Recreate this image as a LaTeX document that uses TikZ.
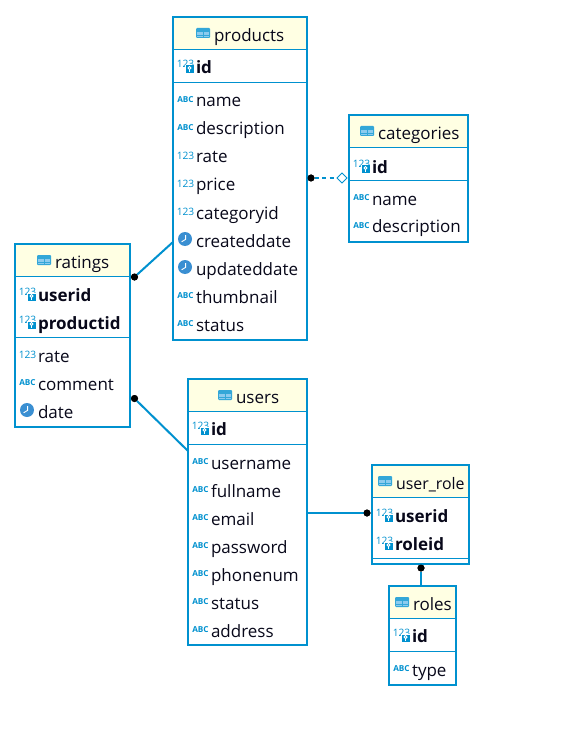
\documentclass[tikz,border=0pt]{standalone}
\usepackage{fontspec}
\setmainfont{Open Sans}
\usetikzlibrary{shapes.geometric}
\definecolor{erblue}{HTML}{0091CF}
\definecolor{erlight}{HTML}{8CCBEE}
\definecolor{erhead}{HTML}{FFFFE3}
\definecolor{clockblue}{HTML}{3A8FD2}
\definecolor{ink}{HTML}{08081A}
\tikzset{
  entbox/.style={draw=erblue,line width=2pt,fill=white,inner sep=0,outer sep=0,anchor=north west},
  sepline/.style={draw=erblue,line width=1pt},
  conn/.style={draw=erblue,line width=2pt},
  dotend/.style={circle,fill=black,inner sep=0,minimum size=7pt,outer sep=0},
  diamondend/.style={diamond,draw=erblue,fill=white,line width=.8pt,inner sep=0,minimum width=10pt,minimum height=10pt,outer sep=0},
  fldtext/.style={inner sep=0,outer sep=0,anchor=base west,text=ink,font=\fontsize{17}{20}\selectfont},
  titletext/.style={inner sep=0,outer sep=0,anchor=base west,text=ink,font=\fontsize{17}{20}\selectfont},
  icontext/.style={inner sep=0,outer sep=0,text=erblue},
  pics/icn/.style={code={\node[icontext,font=\fontsize{10.2}{12}\selectfont,anchor=center] (n123) at (8.5,-1.5) {123};}},
  pics/ica/.style={code={\node[icontext,font=\fontsize{8.2}{9}\selectfont\bfseries,anchor=center] (nabc) at (8.5,-1.5) {ABC};}},
  pics/icc/.style={code={
    \fill[clockblue] (8,-2) circle (7);
    \draw[white,line width=.9pt] (8.6,-6) -- (8.6,-1.6) -- (4.6,0.8);}},
  pics/ick/.style={code={
    \node[icontext,font=\fontsize{10.2}{12}\selectfont,anchor=center] (nkey) at (8.5,-3) {123};
    \fill[white] (8,-2) rectangle (17,6.5);
    \fill[erblue] (8.5,-1.5) rectangle (16.5,6);
    \draw[white,line width=.9pt] (12.5,1) circle (1.6);
    \draw[white,line width=.9pt] (12.5,2.6) -- (12.5,5);}},
  pics/ict/.style={code={
    \fill[erblue!80!white,rounded corners=1pt] (0,0) rectangle (14,10);
    \fill[erlight] (1,4) rectangle (6.5,6.8);
    \fill[erlight] (7.5,4) rectangle (13,6.8);
    \fill[erlight] (1,7.6) rectangle (6.5,9.2);
    \fill[erlight] (7.5,7.6) rectangle (13,9.2);}}
}
% #1 name, #2 x0, #3 y0, #4 x1, #5 y1, #6 separator y, #7 title x, #8 title text
\newcommand\entity[8]{%
  \node[entbox,minimum width={(#4-#2)*1pt},minimum height={(#5-#3)*1pt}] (#1) at (#2,#3) {};
  \fill[erhead] (#2+1,#3+1) rectangle (#4-1,#3+32);
  \draw[sepline] (#2,#3+32.5) -- (#4,#3+32.5);
  \draw[sepline] (#2,#6) -- (#4,#6);
  \pic at (#7-18,#3+11) {ict};
  \node[titletext] (#1-title) at (#7,#3+24.5) {#8};
}
% #1 icon, #2 node name, #3 x, #4 y, #5 text
\newcommand\fld[5]{%
  \pic at (#3-19,#4) {ic#1};
  \node[fldtext] (#2) at (#3,#4+6) {#5};
}
\newcommand\keyfld[4]{%
  \pic at (#2-19,#3) {ick};
  \node[fldtext,font=\fontsize{17}{20}\selectfont\bfseries] (#1) at (#2,#3+6.5) {#4};
}
\begin{document}
\begin{tikzpicture}[x=1pt,y=-1pt]
\useasboundingbox (0,0) rectangle (565,751);
\fill[white] (0,0) rectangle (565,751);

\node[dotend] (dotcat) at (311,178) {};
\node[diamondend] (dia) at (342,178) {};
\node[dotend] (dotprod) at (134.5,277) {};
\node[dotend] (dotusr) at (134.5,398.5) {};
\node[dotend] (dotur) at (367,513) {};
\node[dotend] (dotrole) at (421,568) {};
\coordinate (prodin) at (173,242);
\coordinate (usrin) at (188,451);

\draw[conn] (dotprod) -- (prodin);
\draw[conn] (dotusr) -- (usrin);
\draw[conn,dash pattern=on 4pt off 3.5pt] (dotcat) -- (dia);

\entity{products}{173}{17}{307}{340}{82.5}{214}{products}
\keyfld{products-id}{196}{67}{id}
\fld{a}{products-name}{196}{101}{name}
\fld{a}{products-description}{196}{129}{description}
\fld{n}{products-rate}{196}{157}{rate}
\fld{n}{products-price}{196}{185}{price}
\fld{n}{products-categoryid}{196}{213}{categoryid}
\fld{c}{products-createddate}{196}{241}{createddate}
\fld{c}{products-updateddate}{196}{269}{updateddate}
\fld{a}{products-thumbnail}{196}{297}{thumbnail}
\fld{a}{products-status}{196}{325}{status}

\entity{categories}{349}{115}{468}{242}{180.5}{378}{categories}
\keyfld{categories-id}{372}{167}{id}
\fld{a}{categories-name}{372}{199}{name}
\fld{a}{categories-description}{372}{227}{description}

\entity{ratings}{15}{244}{130}{427}{337.5}{55}{ratings}
\keyfld{ratings-userid}{38}{295}{userid}
\keyfld{ratings-productid}{38}{323}{productid}
\fld{n}{ratings-rate}{38}{356}{rate}
\fld{a}{ratings-comment}{38}{384}{comment}
\fld{c}{ratings-date}{38}{412}{date}

\entity{users}{188}{379}{307}{645}{444.5}{236}{users}
\keyfld{users-id}{211}{429}{id}
\fld{a}{users-username}{211}{463}{username}
\fld{a}{users-fullname}{211}{491}{fullname}
\fld{a}{users-email}{211}{519}{email}
\fld{a}{users-password}{211}{547}{password}
\fld{a}{users-phonenum}{211}{575}{phonenum}
\fld{a}{users-status}{211}{603}{status}
\fld{a}{users-address}{211}{631}{address}

\entity{userrole}{372}{465}{469}{564}{558.5}{396}{\fontsize{15.9}{20}\selectfont user\_role}
\keyfld{userrole-userid}{395}{516}{userid}
\keyfld{userrole-roleid}{395}{544}{roleid}

\entity{roles}{389}{586}{456}{685}{651.5}{413}{roles}
\keyfld{roles-id}{412}{636}{id}
\fld{a}{roles-type}{412}{670}{type}

\draw[conn] (dotur) -- (users.east |- dotur);
\draw[conn] (dotrole) -- (roles.north -| dotrole);
\node[dotend] at (dotcat) {};
\node[dotend] at (dotprod) {};
\node[dotend] at (dotusr) {};
\node[dotend] at (dotur) {};
\node[dotend] at (dotrole) {};
\end{tikzpicture}
\end{document}
